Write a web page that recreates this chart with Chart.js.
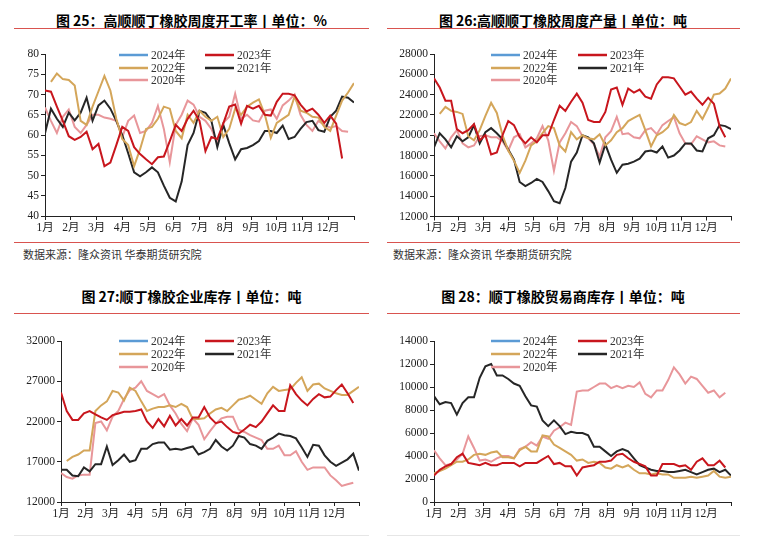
<!DOCTYPE html>
<html>
<head>
<meta charset="utf-8">
<script src="https://cdn.jsdelivr.net/npm/chart.js@4.4.1/dist/chart.umd.min.js"></script>
<style>
  body { margin: 0; background: #fff; }
  #page { position: relative; width: 777px; height: 536px; overflow: hidden; font-family: "Noto Sans CJK SC", sans-serif; }
  .title { position: absolute; height: 20px; line-height: 20px; text-align: center; font-size: 14px; font-weight: bold; color: #000; white-space: nowrap; }
  .rule { position: absolute; height: 1px; background: #d9534f; }
  .foot { position: absolute; height: 1px; background: #e6e6e6; }
  .source { position: absolute; font-size: 11px; line-height: 14px; color: #333; white-space: nowrap; }
  canvas { position: absolute; }
</style>
</head>
<body>
<div id="page">
  <div class="title" style="left:0;top:10px;width:383px;">图 25：高顺顺丁橡胶周度开工率丨单位：%</div>
  <div class="title" style="left:388px;top:10px;width:350px;">图 26:高顺顺丁橡胶周度产量丨单位：吨</div>
  <div class="rule" style="left:14px;top:28px;width:355px;"></div>
  <div class="rule" style="left:387px;top:28px;width:353px;"></div>
  <canvas id="c1" width="388" height="208" style="left:0;top:36px;"></canvas>
  <canvas id="c2" width="389" height="208" style="left:388px;top:36px;"></canvas>
  <div class="rule" style="left:14px;top:242px;width:355px;"></div>
  <div class="rule" style="left:387px;top:242px;width:353px;"></div>
  <div class="source" style="left:23px;top:247px;">数据来源：隆众资讯 华泰期货研究院</div>
  <div class="source" style="left:393px;top:247px;">数据来源：隆众资讯 华泰期货研究院</div>

  <div class="title" style="left:0;top:286px;width:383px;">图 27:顺丁橡胶企业库存丨单位：吨</div>
  <div class="title" style="left:388px;top:286px;width:350px;">图 28：顺丁橡胶贸易商库存丨单位：吨</div>
  <div class="rule" style="left:14px;top:313px;width:355px;"></div>
  <div class="rule" style="left:387px;top:313px;width:353px;"></div>
  <canvas id="c3" width="388" height="210" style="left:0;top:318px;"></canvas>
  <canvas id="c4" width="389" height="210" style="left:388px;top:318px;"></canvas>
  <div class="foot" style="left:14px;top:535px;width:355px;"></div>
  <div class="foot" style="left:387px;top:535px;width:353px;"></div>
</div>
<script>
// x axis: weeks 0..52, labelled by month
const monthLabels = ['1月','2月','3月','4月','5月','6月','7月','8月','9月','10月','11月','12月'];
const yearLabels = ['2024年','2023年','2022年','2021年','2020年'];
const yearColors = ['#5b9bd5','#c8161d','#d4a65a','#262626','#e8969a'];

// 图25 开工率 %
const rate2024 = [];
const rate2023 = [71.0,70.7,67.0,63.5,59.7,58.8,59.5,60.8,56.5,57.8,52.3,53.2,57.5,62.0,61.0,57.0,55.3,54.0,52.8,54.5,54.7,58.5,62.5,61.0,64.0,66.0,63.5,56.0,59.5,59.0,62.8,67.0,67.5,62.8,67.2,66.5,67.2,65.0,64.8,68.2,70.2,70.2,69.8,67.5,65.8,66.5,65.0,63.0,64.8,62.8,54.2];
const rate2022 = [null,73.1,75.2,73.8,73.6,72.2,63.5,62.5,67.0,70.8,74.6,71.0,64.0,59.0,57.5,52.3,56.5,61.5,62.0,64.0,67.0,66.5,61.0,59.2,65.0,63.0,66.0,64.5,63.5,64.5,59.5,61.5,66.5,65.0,67.0,68.0,68.8,65.0,59.3,63.0,64.0,65.0,69.5,66.0,65.5,64.5,64.3,62.0,61.0,64.8,68.5,70.5,72.8];
const rate2021 = [60.4,66.5,64.0,62.0,65.5,63.6,65.5,69.2,63.5,67.3,68.5,66.5,63.5,60.0,55.5,50.8,49.8,50.8,52.0,50.8,47.5,44.5,43.6,48.5,57.5,60.5,66.0,65.5,63.5,57.0,62.5,58.0,54.0,56.5,56.8,57.5,58.5,61.0,61.0,60.5,62.3,59.0,59.5,61.5,63.2,63.5,61.2,60.8,64.5,66.0,69.5,69.2,68.0];
const rate2020 = [66.8,63.5,60.5,64.5,66.3,62.0,60.5,62.5,65.0,65.0,64.3,64.0,63.5,59.5,63.5,64.8,60.5,61.0,63.0,67.2,61.5,53.3,62.5,65.0,68.5,67.5,64.5,63.5,61.5,58.0,63.0,64.5,70.2,64.0,65.0,63.6,63.3,66.0,66.3,64.0,67.3,68.5,70.0,65.0,62.5,61.0,63.5,62.5,61.8,62.2,61.0,60.8];

// 图26 周度产量 吨
const output2024 = [];
const output2023 = [25600,24700,23400,23400,20600,20200,20500,21100,19500,20000,18100,18300,20000,21400,21000,19800,19200,19800,19300,20000,20000,21500,22900,22400,23300,24100,23200,21500,21300,21300,22300,24500,24700,23000,24600,24200,24500,23800,23600,25000,25700,25700,25600,24800,24000,24300,23600,23000,23700,23100,20900,19800];
const output2022 = [null,22100,22800,22400,22300,22100,19900,19500,20500,21900,23200,22200,20000,18500,17500,16300,17500,19000,19400,20200,20900,20700,19000,18400,20300,19600,20000,19700,19600,20100,19000,19500,20300,20700,21400,21700,22000,20500,18900,20000,20300,20800,22000,21200,21000,21300,22400,21600,22700,24000,24100,24600,25600];
const output2021 = [18800,20200,19600,18800,19900,19400,19800,21000,19200,20300,20700,20200,19600,18600,17600,15400,15000,15300,15700,15400,14500,13500,13300,14800,17400,18300,20000,19800,19200,17300,19100,17600,16300,17100,17200,17400,17700,18400,18500,18300,18900,17800,18000,18500,19200,19200,18500,18400,19700,20000,21000,20900,20600];
const output2020 = [20200,19400,18700,19800,20500,19200,18800,19000,19900,20000,19800,19800,19400,18500,19800,20100,18800,19200,19700,20900,19500,16500,19300,20200,21300,20900,19900,19700,19100,17900,19800,20400,21800,20100,20200,19800,19700,20500,20700,20100,21000,21400,21800,20200,19200,19100,19900,19600,19300,19400,19000,18900];

// 图27 企业库存 吨
const stock2024 = [];
const stock2023 = [25600,23300,22200,22200,23000,23300,22900,22500,22200,22800,23000,23200,23200,23300,23500,22000,21200,22300,21400,22700,21500,22300,21500,22500,22500,23800,22500,21800,22000,21300,20700,20500,21000,21600,21300,22000,23000,24000,23300,23300,26500,25400,24600,24000,24800,25400,25000,25100,25900,26600,25500,24300];
const stock2022 = [null,17100,17600,17900,18400,18400,23300,24000,24500,25800,25600,24600,26200,25800,24500,23300,23600,23800,23800,24000,23800,24200,23800,22300,22300,22400,23000,23500,23700,23300,24000,24700,24900,25200,24700,24200,25500,26300,25800,25900,26000,26800,27500,25800,26600,26700,26100,25800,25500,25300,25300,25800,26300];
const stock2021 = [16000,16000,15300,15200,16300,15800,16700,16700,18900,16600,17200,17900,17000,17200,18600,18600,19200,19400,19400,18500,18600,18500,18700,18900,17900,18200,18600,19700,18900,18400,19000,20200,20000,19200,19000,18600,19600,20000,20500,20300,20200,19900,18800,17600,19100,19000,17800,17000,16500,16900,17300,18000,15900];
const stock2020 = [15600,15100,14900,15300,15400,15400,21800,22000,20900,22600,23300,24800,25900,26200,27000,25800,25400,25000,25400,24000,23000,21700,20800,22400,21600,19800,20800,21700,22400,22600,22600,21000,20700,20300,20000,19700,18600,18600,19000,17800,17800,18300,17000,16000,16300,16300,16300,15300,14700,14000,14200,14400];

// 图28 贸易商库存 吨
const trade2024 = [];
const trade2023 = [2300,2800,3100,3300,3900,4200,3400,3300,3200,3400,3200,3200,3400,3400,3400,3100,3400,3400,3400,3700,4000,3300,3400,3100,3100,2300,3000,3100,3200,3500,3500,3600,4100,4200,3800,3500,3300,3100,2300,2300,3300,3300,3300,3100,3200,2800,3500,3800,3200,3200,3600,3000];
const trade2022 = [2500,2700,2900,3200,3500,3500,3700,4100,4200,4100,4300,4400,3900,3900,3800,4500,4800,4400,4400,5800,5700,5000,4700,4400,4100,3600,3700,3400,3500,3400,3000,2900,3200,3000,3200,2800,2500,2500,2400,2500,2400,2400,2100,2100,2100,2200,2100,2200,2300,2700,2200,2100,2200];
const trade2021 = [9200,8500,8700,8600,7600,8600,9100,9100,10800,11800,12000,11000,11000,10700,10300,10100,9200,8400,8300,7100,6600,7100,6600,5900,6100,6000,6000,5800,4800,4800,4400,4000,4400,4600,4400,3800,3200,3000,2800,2700,2700,2600,2600,2700,2800,2600,2400,2600,2800,2900,2600,2800,2300];
const trade2020 = [4500,3800,3200,3300,3700,4200,5700,4700,3600,3700,3500,3800,4000,4000,3800,4600,4800,5200,4900,5700,5500,6200,6500,6900,6700,9600,9700,9700,10000,10300,10300,9900,10100,9900,10100,10000,10400,9400,9100,9700,9700,10600,11700,11100,10300,10900,10700,10100,9500,9700,9100,9500];

const tickFont = { family: "'Liberation Serif', 'Noto Sans CJK SC', serif", size: 11.5 };

// legend drawn inside the plot, two columns like the original
const yearLegend = {
    id: 'yearLegend',
    afterDraw(chart, args, opts) {
        const ctx = chart.ctx;
        ctx.save();
        ctx.font = "11.5px 'Liberation Serif', 'Noto Sans CJK SC', serif";
        ctx.textBaseline = 'middle';
        chart.data.datasets.forEach((ds, i) => {
            const col = i % 2, row = Math.floor(i / 2);
            const x = opts.cols[col], y = opts.rows[row];
            ctx.strokeStyle = ds.borderColor;
            ctx.lineWidth = 2.5;
            ctx.beginPath();
            ctx.moveTo(x, y);
            ctx.lineTo(x + 29, y);
            ctx.stroke();
            ctx.fillStyle = '#333';
            ctx.fillText(ds.label, x + 32, y + 1);
        });
        ctx.restore();
    }
};

function makePanel(id, series, yMin, yMax, yStep, pad, legendPos) {
    const datasets = series.map((arr, i) => ({
        label: yearLabels[i],
        data: arr.map((v, w) => ({ x: w, y: v })),
        borderColor: yearColors[i],
        borderWidth: 2,
        pointRadius: 0,
        tension: 0,
        fill: false
    }));
    return new Chart(document.getElementById(id), {
        type: 'line',
        data: { datasets: datasets },
        plugins: [yearLegend],
        options: {
            responsive: false,
            animation: false,
            devicePixelRatio: 1,
            layout: { padding: pad },
            plugins: {
                legend: { display: false },
                tooltip: { enabled: false },
                yearLegend: legendPos
            },
            scales: {
                x: {
                    type: 'linear',
                    min: 0,
                    max: 52,
                    afterBuildTicks: axis => {
                        axis.ticks = [];
                        for (let m = 0; m <= 12; m++) axis.ticks.push({ value: m * 52 / 12 });
                    },
                    afterFit: axis => { axis.height = 24; },
                    grid: { drawOnChartArea: false, drawTicks: true, tickLength: 4, color: '#222' },
                    border: { display: true, color: '#222', width: 1 },
                    ticks: {
                        autoSkip: false,
                        maxRotation: 0,
                        minRotation: 0,
                        padding: 1,
                        color: '#222',
                        font: tickFont,
                        callback: (v, i) => monthLabels[i] || ''
                    }
                },
                y: {
                    min: yMin,
                    max: yMax,
                    afterFit: axis => { axis.width = 40; },
                    grid: { drawOnChartArea: false, drawTicks: true, tickLength: 4, color: '#222' },
                    border: { display: true, color: '#222', width: 1 },
                    ticks: {
                        stepSize: yStep,
                        padding: 2,
                        color: '#222',
                        font: tickFont,
                        callback: v => String(v)
                    }
                }
            }
        }
    });
}

makePanel('c1', [rate2024, rate2023, rate2022, rate2021, rate2020], 40, 80, 5,
    { left: 5, top: 18, right: 34, bottom: 4 },
    { cols: [119, 205], rows: [19, 32, 44] });
makePanel('c2', [output2024, output2023, output2022, output2021, output2020], 12000, 28000, 2000,
    { left: 6, top: 18, right: 46, bottom: 3.5 },
    { cols: [103, 190], rows: [19, 32, 44] });
makePanel('c3', [stock2024, stock2023, stock2022, stock2021, stock2020], 12000, 32000, 5000,
    { left: 21, top: 23, right: 29, bottom: 2 },
    { cols: [119, 205], rows: [23, 36, 49] });
makePanel('c4', [trade2024, trade2023, trade2022, trade2021, trade2020], 0, 14000, 2000,
    { left: 6, top: 23, right: 46, bottom: 2 },
    { cols: [103, 190], rows: [23, 36, 49] });
</script>
</body>
</html>
